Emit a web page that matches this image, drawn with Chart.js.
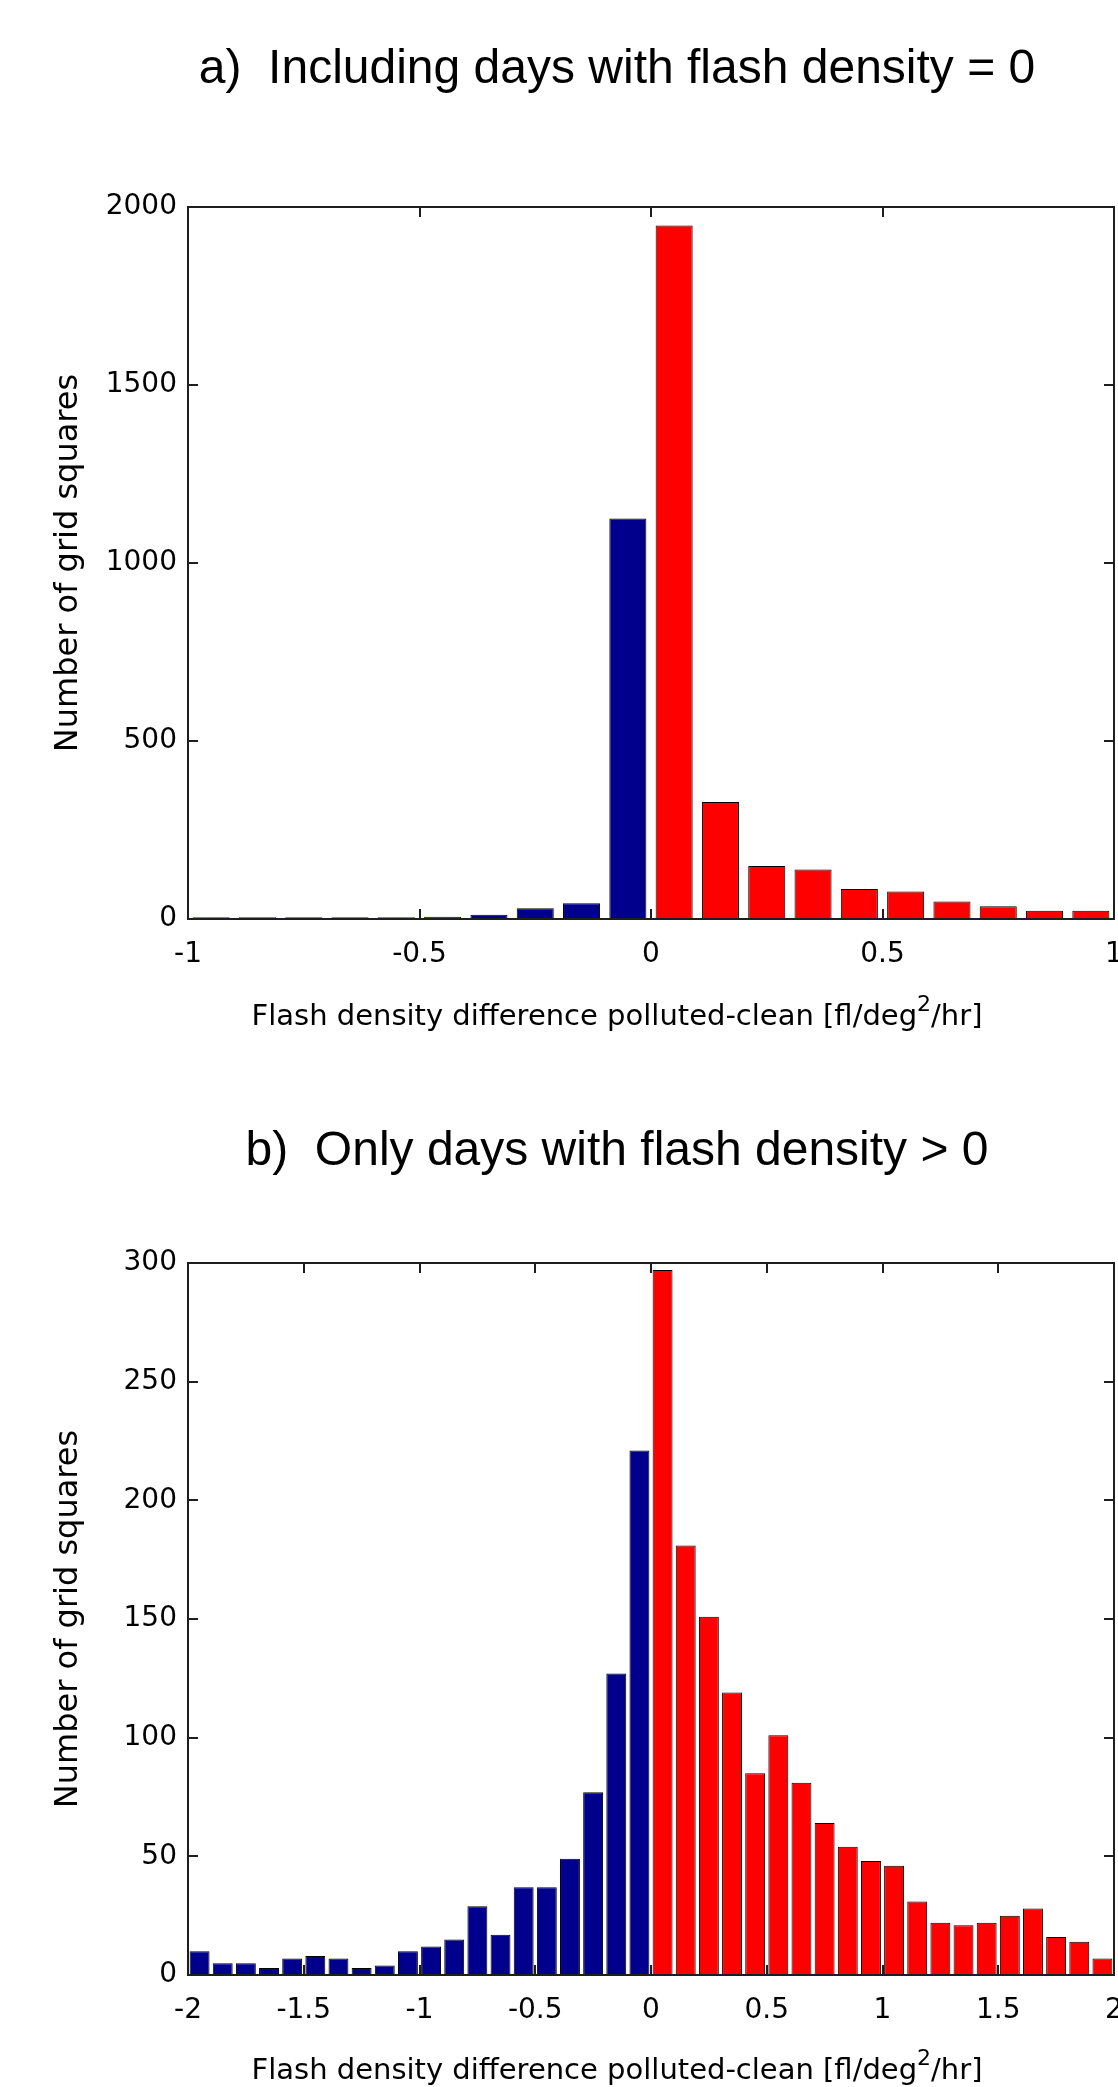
<!DOCTYPE html>
<html>
<head>
<meta charset="utf-8">
<script src="https://cdn.jsdelivr.net/npm/chart.js@4.4.1/dist/chart.umd.min.js"></script>
<style>
  html, body { margin: 0; padding: 0; background: #fff; overflow: hidden; }
  canvas { position: absolute; left: 0; }
  #chartA { top: 0; }
  #chartB { top: 1090px; }
</style>
</head>
<body>
<canvas id="chartA" width="1118" height="1090"></canvas>
<canvas id="chartB" width="1118" height="997"></canvas>
<script>
// a) including days with flash density = 0  (bin centres, width 0.1)
const binsA = [-0.95, -0.85, -0.75, -0.65, -0.55, -0.45, -0.35, -0.25, -0.15, -0.05,
               0.05, 0.15, 0.25, 0.35, 0.45, 0.55, 0.65, 0.75, 0.85, 0.95];
const countsA = [5, 5, 5, 5, 5, 6, 12, 30, 44, 1125,
                 1948, 329, 149, 139, 84, 77, 49, 36, 23, 23];
const xTicksA = [-1, -0.5, 0, 0.5, 1];
const yTicksA = [0, 500, 1000, 1500, 2000];

// b) only days with flash density > 0
const binsB = [-1.95, -1.85, -1.75, -1.65, -1.55, -1.45, -1.35, -1.25, -1.15, -1.05,
               -0.95, -0.85, -0.75, -0.65, -0.55, -0.45, -0.35, -0.25, -0.15, -0.05,
               0.05, 0.15, 0.25, 0.35, 0.45, 0.55, 0.65, 0.75, 0.85, 0.95,
               1.05, 1.15, 1.25, 1.35, 1.45, 1.55, 1.65, 1.75, 1.85, 1.95];
const countsB = [10, 5, 5, 3, 7, 8, 7, 3, 4, 10,
                 12, 15, 29, 17, 37, 37, 49, 77, 127, 221,
                 297, 181, 151, 119, 85, 101, 81, 64, 54, 48,
                 46, 31, 22, 21, 22, 25, 28, 16, 14, 7];
const xTicksB = [-2, -1.5, -1, -0.5, 0, 0.5, 1, 1.5, 2];
const yTicksB = [0, 50, 100, 150, 200, 250, 300];

const titleA = 'a)  Including days with flash density = 0';
const titleB = 'b)  Only days with flash density > 0';
const xLabel = ['Flash density difference polluted-clean [fl/deg', '2', '/hr]'];
const yLabel = 'Number of grid squares';

const BLUE = '#00008c';
const RED = '#ff0000';
const AXIS = '#1e1e1e';
const TICKFONT = { family: '"DejaVu Sans", sans-serif', size: 28 };

// titles and x label (with raised 2) drawn on the canvas
const figureText = {
  id: 'figureText',
  afterDraw(chart, args, opts) {
    const ctx = chart.ctx;
    ctx.save();
    ctx.fillStyle = '#000';
    ctx.textBaseline = 'alphabetic';
    ctx.textAlign = 'center';
    ctx.font = '48px "Liberation Sans", Arial, sans-serif';
    ctx.fillText(opts.title, 617, opts.titleY);

    ctx.textAlign = 'left';
    ctx.font = '29px "DejaVu Sans", sans-serif';
    const w1 = ctx.measureText(xLabel[0]).width;
    const w3 = ctx.measureText(xLabel[2]).width;
    ctx.font = '22px "DejaVu Sans", sans-serif';
    const w2 = ctx.measureText(xLabel[1]).width;
    let x = 617 - (w1 + w2 + w3) / 2;
    ctx.font = '29px "DejaVu Sans", sans-serif';
    ctx.fillText(xLabel[0], x, opts.labelY);
    x += w1;
    ctx.font = '22px "DejaVu Sans", sans-serif';
    ctx.fillText(xLabel[1], x, opts.labelY - 14);
    x += w2;
    ctx.font = '29px "DejaVu Sans", sans-serif';
    ctx.fillText(xLabel[2], x, opts.labelY);
    ctx.restore();
  }
};

function makeChart(id, bins, counts, xTicks, yTicks, cfg) {
  const xMin = xTicks[0], xMax = xTicks[xTicks.length - 1];
  const yMin = yTicks[0], yMax = yTicks[yTicks.length - 1];
  const xStep = xTicks[1] - xTicks[0], yStep = yTicks[1] - yTicks[0];
  const tickGrid = { display: true, drawOnChartArea: false, drawTicks: true,
                     tickLength: -10, color: AXIS, lineWidth: 2, z: 1, offset: false };
  const border = { display: true, color: AXIS, width: 2, z: 1 };

  return new Chart(document.getElementById(id), {
    type: 'bar',
    data: {
      datasets: [{
        data: bins.map((b, i) => ({ x: b, y: counts[i] })),
        backgroundColor: c => (c.raw && c.raw.x < 0 ? BLUE : RED),
        borderColor: '#000',
        borderWidth: 1,
        categoryPercentage: 1,
        barPercentage: cfg.barPct
      }]
    },
    options: {
      responsive: false,
      animation: false,
      events: [],
      layout: { autoPadding: false, padding: { top: cfg.top, left: 0, right: 4, bottom: 0 } },
      plugins: {
        legend: { display: false },
        tooltip: { enabled: false },
        figureText: { title: cfg.title, titleY: cfg.titleY, labelY: cfg.labelY }
      },
      scales: {
        x: {
          type: 'linear', position: 'bottom', min: xMin, max: xMax, offset: false,
          grid: tickGrid, border: border,
          ticks: { stepSize: xStep, font: TICKFONT, color: '#000', padding: 29,
                   maxRotation: 0, autoSkip: false, callback: v => String(v) },
          afterFit: s => { s.height = cfg.xHeight; s.paddingLeft = 0; s.paddingRight = 0; }
        },
        xTop: {
          type: 'linear', position: 'top', min: xMin, max: xMax, offset: false,
          grid: tickGrid, border: border,
          ticks: { stepSize: xStep, display: false },
          afterFit: s => { s.height = 0; s.paddingLeft = 0; s.paddingRight = 0; }
        },
        y: {
          type: 'linear', position: 'left', min: yMin, max: yMax,
          grid: tickGrid, border: border,
          ticks: { stepSize: yStep, font: TICKFONT, color: '#000', padding: 21,
                   callback: v => String(v) },
          title: { display: true, text: yLabel, color: '#000',
                   font: { family: '"DejaVu Sans", sans-serif', size: 32 },
                   padding: { top: 49, bottom: 0 } },
          afterFit: s => { s.width = 188; s.paddingTop = 0; s.paddingBottom = 0; }
        },
        yRight: {
          type: 'linear', position: 'right', min: yMin, max: yMax,
          grid: tickGrid, border: border,
          ticks: { stepSize: yStep, display: false },
          afterFit: s => { s.width = 0; s.paddingTop = 0; s.paddingBottom = 0; }
        }
      }
    },
    plugins: [figureText]
  });
}

makeChart('chartA', binsA, countsA, xTicksA, yTicksA,
  { top: 207, xHeight: 171, title: titleA, titleY: 83, labelY: 1025, barPct: 0.8 });
makeChart('chartB', binsB, countsB, xTicksB, yTicksB,
  { top: 173, xHeight: 112, title: titleB, titleY: 75, labelY: 989, barPct: 0.86 });
</script>
</body>
</html>
